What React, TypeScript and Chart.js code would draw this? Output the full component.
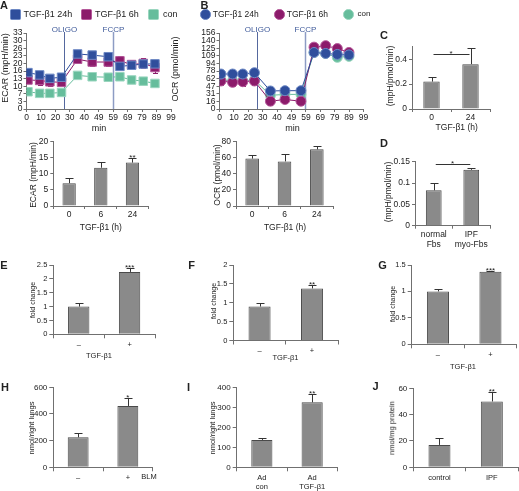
import React, { useEffect, useMemo, useRef } from "react";
import { Chart, registerables } from "chart.js";
Chart.register(...registerables);

const W = 519;
const H = 491;
const FONT = "'Liberation Sans', Arial, Helvetica, sans-serif";
const TXT = "#222";
const AXIS = "#707070";
const BAR_FILL = "#8a8a8a";
const BAR_EDGE = "#4a4a4a";
const BLUE = "#2f4e9c";
const PURPLE = "#8c1b6b";
const GREEN = "#66bd9c";
const INJ_TXT = "#3f5a9a";

// ---------------- data ----------------
const seriesNames = ["TGF-β1 24h", "TGF-β1 6h", "con"];
const minTickLabels = ["0", "10", "20", "30", "40", "49", "59", "69", "79", "89", "99"];
const ecarTickLabels = ["0", "3", "7", "10", "13", "16", "20", "23", "26", "30", "33"];
const ocrTickLabels = ["0", "16", "31", "47", "62", "78", "94", "109", "125", "140", "156"];
const oligoTime = 26;
const fccpTime = 59;

const ecarTimes = [1, 9, 16, 24, 35, 45, 56, 64, 72, 80, 88];
const ecar24h = [15.8, 14.8, 13.3, 13.8, 23.9, 23.4, 22.7, 18.5, 19.0, 19.5, 19.6];
const ecar24hErr = [0.8, 0.8, 0.8, 0.9, 1.0, 1.0, 0.9, 1.0, 1.0, 1.0, 1.0];
const ecar6h = [12.6, 12.4, 11.8, 11.6, 21.6, 20.4, 20.4, 20.9, 19.3, 19.8, 18.0];
const ecar6hErr = [1.5, 1.8, 1.6, 1.8, 1.5, 1.7, 1.8, 2.2, 2.0, 2.2, 2.5];
const ecarCon = [7.5, 6.8, 6.8, 7.2, 14.6, 14.0, 13.8, 14.0, 12.6, 12.1, 11.1];
const ecarConErr = [0.7, 0.6, 0.6, 0.7, 0.8, 0.7, 0.7, 0.7, 0.7, 0.8, 0.9];

const ocrTimes = [1, 9, 16, 24, 35, 45, 56, 65, 73, 81, 89];
const ocr24h = [71.8, 71.8, 71.8, 74.5, 37.0, 37.6, 37.6, 116, 114, 112, 111];
const ocr24hErr = [3, 3, 3, 3, 3, 3, 3, 4, 4, 4, 4];
const ocr6h = [57.5, 54.7, 56.0, 57.5, 16, 19.5, 16, 127, 130, 124, 116];
const ocr6hErr = [8, 8, 8, 8, 8, 8, 8, 6, 6, 6, 6];
const ocrCon = [59.5, 58, 58, 59.5, 28, 30, 30, 116, 114, 106, 108];
const ocrConErr = [3, 3, 3, 3, 3, 3, 3, 4, 4, 4, 4];

const timeCats = ["0", "6", "24"];
const ecarBar = [7.1, 11.9, 13.5];
const ecarBarErr = [1.5, 1.9, 1.4];
const ecarBarStars = ["", "", "**"];
const ocrBar = [59, 55.5, 70.5];
const ocrBarErr = [4, 9.5, 4];

const ratioCats = ["0", "24"];
const ratioVals = [0.22, 0.36];
const ratioErr = [0.035, 0.13];

const fibroCats = [["normal", "Fbs"], ["IPF", "myo-Fbs"]];
const fibroVals = [0.083, 0.131];
const fibroErr = [0.017, 0.005];

const signCats = ["–", "+"];
const eVals = [1.0, 2.25];
const eErr = [0.13, 0.13];
const eStars = ["", "***"];
const fVals = [0.9, 1.38];
const fErr = [0.1, 0.1];
const fStars = ["", "**"];
const gVals = [1.0, 1.37];
const gErr = [0.04, 0.015];
const gStars = ["", "***"];

const blmCats = ["–", "+"];
const hVals = [225, 460];
const hErr = [30, 58];
const hStars = ["", "*"];
const adCats = [["Ad", "con"], ["Ad", "TGF-β1"]];
const iVals = [137, 325];
const iErr = [12, 40];
const iStars = ["", "**"];
const patientCats = ["control", "IPF"];
const jVals = [17, 50];
const jErr = [5.5, 7.5];
const jStars = ["", "**"];

// ---------------- layout ----------------
type Area = [number, number, number, number];
const AREAS: Record<string, Area> = {
  aLine: [26.5, 33, 171, 109],
  bLine: [219.5, 33, 363.5, 109],
  c: [412, 46.7, 490, 109],
  aBar: [53.3, 141.7, 148.3, 206],
  bBar: [236, 141.7, 333, 206],
  d: [415, 161.7, 490, 225.7],
  e: [53.3, 265, 155, 334.3],
  f: [233.3, 265, 338.3, 340.5],
  g: [411.7, 265, 516.7, 344.3],
  h: [53.3, 387.3, 152.7, 467.3],
  i: [236.7, 387.3, 337.3, 467.3],
  j: [413.3, 388.3, 518, 467.3],
};

// ---------------- plugins ----------------
const errPlugin = {
  id: "errbars",
  beforeDatasetsDraw(chart: any) {
    if (chart.config.type === "line") drawErr(chart, true);
  },
  afterDatasetsDraw(chart: any) {
    if (chart.config.type === "bar") drawErr(chart, false);
  },
};

function drawErr(chart: any, both: boolean) {
  const ctx = chart.ctx;
  const ys = chart.scales.y;
  chart.data.datasets.forEach((ds: any, di: number) => {
    if (!ds.errors) return;
    const meta = chart.getDatasetMeta(di);
    ctx.save();
    ctx.strokeStyle = ds.errColor || "#333";
    ctx.lineWidth = 1;
    meta.data.forEach((el: any, i: number) => {
      const raw = ds.data[i];
      const v = typeof raw === "number" ? raw : raw.y;
      const e = ds.errors[i];
      const x = Math.round(el.x) + 0.5;
      const top = Math.round(ys.getPixelForValue(v + e)) + 0.5;
      const bot = ys.getPixelForValue(both ? v - e : v);
      const cap = ds.capHalf ?? 4;
      ctx.beginPath();
      ctx.moveTo(x, top);
      ctx.lineTo(x, bot);
      ctx.moveTo(x - cap, top);
      ctx.lineTo(x + cap, top);
      if (both) {
        const b2 = Math.round(bot) + 0.5;
        ctx.moveTo(x - cap, b2);
        ctx.lineTo(x + cap, b2);
      }
      ctx.stroke();
      if (ds.stars && ds.stars[i]) {
        ctx.fillStyle = TXT;
        ctx.font = `${ds.starSize || 8}px ${FONT}`;
        ctx.textAlign = "center";
        ctx.textBaseline = "alphabetic";
        ctx.fillText(ds.stars[i], el.x, top + 1);
      }
    });
    ctx.restore();
  });
}

function bracketPlugin(b: { value: number; text: string }) {
  return {
    id: "bracket",
    afterDatasetsDraw(chart: any) {
      const ctx = chart.ctx;
      const meta = chart.getDatasetMeta(0);
      const x0 = meta.data[0].x;
      const x1 = meta.data[1].x;
      const y = Math.round(chart.scales.y.getPixelForValue(b.value)) + 0.5;
      ctx.save();
      ctx.strokeStyle = "#333";
      ctx.lineWidth = 1;
      ctx.beginPath();
      ctx.moveTo(x0 + 2, y);
      ctx.lineTo(x1 - 1, y);
      ctx.stroke();
      ctx.fillStyle = TXT;
      ctx.font = `8px ${FONT}`;
      ctx.textAlign = "center";
      ctx.fillText(b.text, (x0 + x1) / 2, y + 1);
      ctx.restore();
    },
  };
}

function injectPlugin(items: { x: number; label: string; color: string; width: number }[]) {
  return {
    id: "inject",
    beforeDatasetsDraw(chart: any) {
      const { ctx, chartArea, scales } = chart;
      items.forEach((it) => {
        const x = Math.round(scales.x.getPixelForValue(it.x)) + 0.5;
        ctx.save();
        ctx.strokeStyle = it.color;
        ctx.lineWidth = it.width;
        ctx.beginPath();
        ctx.moveTo(x, chartArea.top - 1);
        ctx.lineTo(x, chartArea.bottom);
        ctx.stroke();
        ctx.fillStyle = INJ_TXT;
        ctx.font = `8px ${FONT}`;
        ctx.textAlign = "center";
        ctx.textBaseline = "alphabetic";
        ctx.fillText(it.label, x, chartArea.top - 1);
        ctx.restore();
      });
    },
  };
}

// ---------------- configs ----------------
function baseOptions(area: Area) {
  const [, T, R] = area;
  return {
    animation: false,
    responsive: false,
    maintainAspectRatio: false,
    devicePixelRatio: 1,
    events: [],
    layout: { padding: { left: 0, top: T, right: W - R, bottom: 0 } },
    plugins: { legend: { display: false }, tooltip: { enabled: false }, title: { display: false } },
  };
}

function lineConfig(
  area: Area,
  times: number[],
  series: { name: string; values: number[]; errors: number[]; color: string; edge: string }[],
  yLabels: string[],
  yMax: number,
  pointStyle: string,
  pointRadius: number
) {
  const [L, , , B] = area;
  const grid = { display: true, drawOnChartArea: false, drawTicks: true, tickLength: 3, color: AXIS, lineWidth: 1 };
  return {
    type: "line",
    data: {
      datasets: series.map((s) => ({
        label: s.name,
        data: times.map((t, i) => ({ x: t, y: s.values[i] })),
        errors: s.errors,
        errColor: s.color,
        capHalf: 2.5,
        borderColor: s.color,
        backgroundColor: s.color,
        pointBackgroundColor: s.color,
        pointBorderColor: s.edge,
        pointBorderWidth: 1,
        pointStyle,
        pointRadius,
        borderWidth: 1,
        tension: 0,
      })),
    },
    options: {
      ...baseOptions(area),
      scales: {
        x: {
          type: "linear",
          min: 0,
          max: 99,
          afterBuildTicks: (s: any) => {
            s.ticks = minTickLabels.map((_, i) => ({ value: (i * 99) / 10 }));
          },
          grid,
          border: { color: AXIS, width: 1 },
          ticks: {
            callback: (_v: any, i: number) => minTickLabels[i],
            font: { family: FONT, size: 8.5 },
            color: TXT,
            padding: 1,
            maxRotation: 0,
            minRotation: 0,
            autoSkip: false,
          },
          afterFit: (s: any) => {
            s.height = H - B;
          },
        },
        y: {
          type: "linear",
          min: 0,
          max: yMax,
          afterBuildTicks: (s: any) => {
            s.ticks = yLabels.map((_, i) => ({ value: (i * yMax) / 10 }));
          },
          grid,
          border: { color: AXIS, width: 1 },
          ticks: {
            callback: (_v: any, i: number) => yLabels[i],
            font: { family: FONT, size: 8.5 },
            color: TXT,
            padding: 1,
            autoSkip: false,
          },
          afterFit: (s: any) => {
            s.width = L;
          },
        },
      },
    },
  };
}

interface BarSpec {
  area: Area;
  labels: any[];
  values: number[];
  errors: number[];
  stars?: string[];
  max: number;
  step: number;
  tickSize: number;
  catSize: number;
  tickLen?: number;
  catPad?: number;
  bracket?: { value: number; text: string };
}

function barConfig(p: BarSpec) {
  const [L, , , B] = p.area;
  const grid = { display: true, drawOnChartArea: false, drawTicks: true, tickLength: p.tickLen ?? 3, color: AXIS, lineWidth: 1 };
  const plugins: any[] = [errPlugin];
  if (p.bracket) plugins.push(bracketPlugin(p.bracket));
  return {
    type: "bar",
    data: {
      labels: p.labels,
      datasets: [
        {
          data: p.values,
          errors: p.errors,
          stars: p.stars,
          backgroundColor: BAR_FILL,
          borderColor: BAR_EDGE,
          borderWidth: 1,
          barPercentage: 0.42,
          categoryPercentage: 1,
        },
      ],
    },
    options: {
      ...baseOptions(p.area),
      scales: {
        x: {
          type: "category",
          offset: true,
          grid: { ...grid, offset: true },
          border: { color: AXIS, width: 1 },
          ticks: {
            font: { family: FONT, size: p.catSize, lineHeight: 1.2 },
            color: TXT,
            padding: p.catPad ?? 1,
            maxRotation: 0,
            minRotation: 0,
            autoSkip: false,
          },
          afterFit: (s: any) => {
            s.height = H - B;
          },
        },
        y: {
          type: "linear",
          min: 0,
          max: p.max,
          grid,
          border: { color: AXIS, width: 1 },
          ticks: {
            stepSize: p.step,
            font: { family: FONT, size: p.tickSize },
            color: TXT,
            padding: 2,
            callback: (v: number) => String(+Number(v).toFixed(3)),
          },
          afterFit: (s: any) => {
            s.width = L;
          },
        },
      },
    },
    plugins,
  };
}

function buildConfigs() {
  const injections = [
    { x: oligoTime, label: "OLIGO", color: "#55689e", width: 1 },
    { x: fccpTime, label: "FCCP", color: "#8d9cc4", width: 1.5 },
  ];
  const aLine: any = lineConfig(
    AREAS.aLine,
    ecarTimes,
    [
      { name: seriesNames[0], values: ecar24h, errors: ecar24hErr, color: BLUE, edge: "#6d88c4" },
      { name: seriesNames[1], values: ecar6h, errors: ecar6hErr, color: PURPLE, edge: "#b5589a" },
      { name: seriesNames[2], values: ecarCon, errors: ecarConErr, color: GREEN, edge: "#9ad6bf" },
    ],
    ecarTickLabels,
    33,
    "rect",
    6
  );
  aLine.plugins = [errPlugin, injectPlugin(injections)];
  const bLine: any = lineConfig(
    AREAS.bLine,
    ocrTimes,
    [
      { name: seriesNames[0], values: ocr24h, errors: ocr24hErr, color: BLUE, edge: "#6d88c4" },
      { name: seriesNames[1], values: ocr6h, errors: ocr6hErr, color: PURPLE, edge: "#b5589a" },
      { name: seriesNames[2], values: ocrCon, errors: ocrConErr, color: GREEN, edge: "#9ad6bf" },
    ],
    ocrTickLabels,
    156,
    "circle",
    5
  );
  bLine.plugins = [errPlugin, injectPlugin(injections)];

  const top = { tickSize: 8.5, catSize: 8.5 };
  const low = { tickSize: 7.5, catSize: 7.5, tickLen: 4, catPad: 2 };
  return [
    aLine,
    bLine,
    barConfig({ area: AREAS.c, labels: ratioCats, values: ratioVals, errors: ratioErr, max: 0.5, step: 0.1, ...top, bracket: { value: 0.441, text: "*" } }),
    barConfig({ area: AREAS.aBar, labels: timeCats, values: ecarBar, errors: ecarBarErr, stars: ecarBarStars, max: 20, step: 5, ...top }),
    barConfig({ area: AREAS.bBar, labels: timeCats, values: ocrBar, errors: ocrBarErr, max: 80, step: 20, ...top }),
    barConfig({ area: AREAS.d, labels: fibroCats, values: fibroVals, errors: fibroErr, max: 0.15, step: 0.05, ...top, bracket: { value: 0.1446, text: "*" } }),
    barConfig({ area: AREAS.e, labels: signCats, values: eVals, errors: eErr, stars: eStars, max: 2.5, step: 0.5, ...low }),
    barConfig({ area: AREAS.f, labels: signCats, values: fVals, errors: fErr, stars: fStars, max: 2, step: 0.5, ...low }),
    barConfig({ area: AREAS.g, labels: signCats, values: gVals, errors: gErr, stars: gStars, max: 1.5, step: 0.5, ...low }),
    barConfig({ area: AREAS.h, labels: blmCats, values: hVals, errors: hErr, stars: hStars, max: 600, step: 200, ...low, tickSize: 8 }),
    barConfig({ area: AREAS.i, labels: adCats, values: iVals, errors: iErr, stars: iStars, max: 400, step: 100, ...low, tickSize: 8 }),
    barConfig({ area: AREAS.j, labels: patientCats, values: jVals, errors: jErr, stars: jStars, max: 60, step: 20, ...low, tickSize: 8 }),
  ];
}

// ---------------- components ----------------
function ChartLayer({ config }: { config: any }) {
  const ref = useRef<HTMLCanvasElement>(null);
  useEffect(() => {
    const chart = new Chart(ref.current as HTMLCanvasElement, config);
    return () => chart.destroy();
  }, [config]);
  return (
    <canvas
      ref={ref}
      width={W}
      height={H}
      style={{ position: "absolute", left: 0, top: 0, width: W, height: H }}
    />
  );
}

function Label(props: {
  x: number;
  y: number;
  text: string;
  size?: number;
  rot?: boolean;
  bold?: boolean;
  color?: string;
  left?: boolean;
}) {
  const { x, y, text, size = 8, rot = false, bold = false, color = TXT, left = false } = props;
  return (
    <div
      style={{
        position: "absolute",
        left: x,
        top: y,
        transform: `translate(${left ? "0" : "-50%"}, -50%)${rot ? " rotate(-90deg)" : ""}`,
        fontSize: size,
        fontWeight: bold ? 700 : 400,
        color,
        whiteSpace: "nowrap",
        lineHeight: 1,
        fontFamily: FONT,
      }}
    >
      {text}
    </div>
  );
}

function Swatch(props: { x: number; y: number; size: number; color: string; edge: string; round?: boolean }) {
  const { x, y, size, color, edge, round } = props;
  return (
    <div
      style={{
        position: "absolute",
        left: x - size / 2,
        top: y - size / 2,
        width: size,
        height: size,
        boxSizing: "border-box",
        background: color,
        border: `1px solid ${edge}`,
        borderRadius: round ? "50%" : 1.5,
      }}
    />
  );
}

export default function App() {
  const configs = useMemo(() => buildConfigs(), []);
  const letters: [string, number, number][] = [
    ["A", 4, 4.5],
    ["B", 204.5, 5],
    ["C", 384, 35],
    ["D", 384, 143.3],
    ["E", 4, 265],
    ["F", 191.7, 265],
    ["G", 382.5, 265],
    ["H", 5, 386.7],
    ["I", 188.5, 386.7],
    ["J", 375.5, 385.7],
  ];
  return (
    <div
      style={{
        position: "absolute",
        left: 0,
        top: 0,
        width: W,
        height: H,
        background: "#fff",
        overflow: "hidden",
        fontFamily: FONT,
      }}
    >
      {configs.map((c, i) => (
        <ChartLayer key={i} config={c} />
      ))}

      {letters.map(([t, x, y]) => (
        <Label key={t} x={x} y={y} text={t} size={11} bold />
      ))}

      {/* legend A */}
      <Swatch x={15.5} y={14.3} size={10.5} color={BLUE} edge="#6d88c4" />
      <Label x={23.5} y={14.3} text={seriesNames[0]} size={9} left />
      <Swatch x={86.7} y={14.3} size={10.5} color={PURPLE} edge="#b5589a" />
      <Label x={95} y={14.3} text={seriesNames[1]} size={9} left />
      <Swatch x={153.3} y={14.3} size={10.5} color={GREEN} edge="#9ad6bf" />
      <Label x={163} y={14.3} text={seriesNames[2]} size={9} left />

      {/* legend B */}
      <Swatch x={205.3} y={14.3} size={10.5} color={BLUE} edge="#6d88c4" round />
      <Label x={212.7} y={14.3} text={seriesNames[0]} size={8.5} left />
      <Swatch x={279.5} y={14.3} size={10.5} color={PURPLE} edge="#b5589a" round />
      <Label x={286.7} y={14.3} text={seriesNames[1]} size={8.5} left />
      <Swatch x={348.3} y={14.3} size={10.5} color={GREEN} edge="#9ad6bf" round />
      <Label x={357.5} y={14.3} text={seriesNames[2]} size={8} left />

      {/* axis titles */}
      <Label x={5} y={68} text="ECAR (mpH/min)" size={9} rot />
      <Label x={175} y={69} text="OCR (pmol/min)" size={9} rot />
      <Label x={99} y={128} text="min" size={9} />
      <Label x={292.5} y={128} text="min" size={9} />
      <Label x={390} y={76} text="(mpH/pmol/min)" size={8.5} rot />
      <Label x={456.7} y={127.3} text="TGF-β1 (h)" size={8.5} />

      <Label x={33.3} y={175} text="ECAR (mpH/min)" size={8.5} rot />
      <Label x={100.8} y={226.7} text="TGF-β1 (h)" size={8.5} />
      <Label x={216.7} y={175} text="OCR (pmol/min)" size={8.5} rot />
      <Label x={285} y={227} text="TGF-β1 (h)" size={8.5} />
      <Label x={388.3} y={192} text="(mpH/pmol/min)" size={8.5} rot />

      <Label x={31.7} y={300} text="fold change" size={7} rot />
      <Label x={99} y={356} text="TGF-β1" size={7.5} />
      <Label x={213.3} y={301} text="fold change" size={7} rot />
      <Label x={285.5} y={357.5} text="TGF-β1" size={7.5} />
      <Label x={391.7} y={304} text="fold change" size={7} rot />
      <Label x={463} y={366.7} text="TGF-β1" size={7.5} />

      <Label x={31.7} y={427.5} text="nmol/right lungs" size={7.5} rot />
      <Label x={149} y={477.3} text="BLM" size={7.5} />
      <Label x={213.3} y={427.5} text="nmol/right lungs" size={7.5} rot />
      <Label x={391.7} y={428.3} text="nmol/mg protein" size={7.5} rot />
    </div>
  );
}
